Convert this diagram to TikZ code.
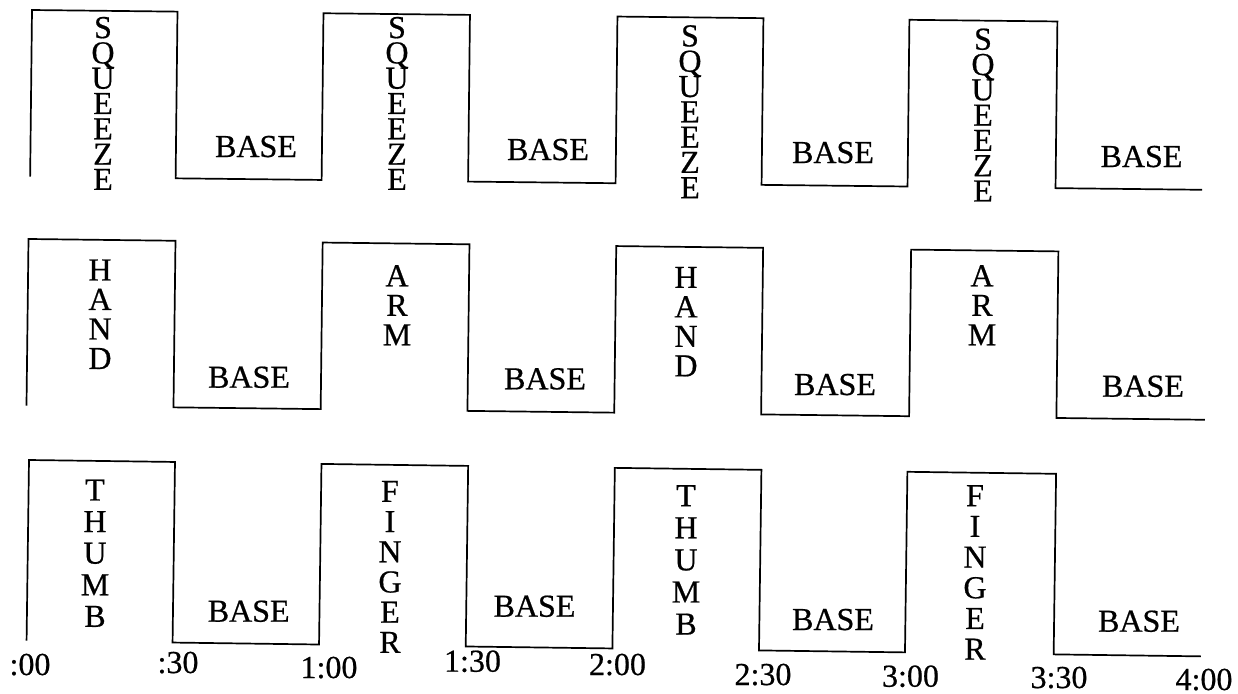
\documentclass[tikz,border=0pt]{standalone}
\usepackage{fontspec}
\setmainfont{Liberation Serif}[FakeBold=0.6]
\newcommand\vwf[1]{\fontsize{32pt}{#1pt}\selectfont\lineskiplimit=-100pt\relax}
\tikzset{
  wave/.style={line width=1.7pt, line join=miter},
  lbl/.style={font=\fontsize{32pt}{36pt}\selectfont, inner sep=0pt, anchor=base},
  vword/.style={inner sep=0pt, anchor=north, align=center, font=\vwf{#1}},
}
\begin{document}
\begin{tikzpicture}[x=1pt,y=-1pt]
\useasboundingbox (0,0) rectangle (1238,693);
% row 1
\begin{scope}[rotate around={-0.64:(31,10)}]
\draw[wave] (32,176.7) -- (32,10) -- (177.5,10) -- (177.5,176.7) -- (323.5,176.7) -- (323.5,10)
  -- (470,10) -- (470,176.7) -- (617.5,176.7) -- (617.5,10) -- (763.5,10) -- (763.5,176.7)
  -- (909.5,176.7) -- (909.5,10) -- (1057.5,10) -- (1057.5,176.7) -- (1204,176.7);
\end{scope}
% row 2
\begin{scope}[rotate around={-0.69:(29,239)}]
\draw[wave] (28.5,405.6) -- (28.5,239) -- (175.5,239) -- (175.5,405.6) -- (322.7,405.6) -- (322.7,239)
  -- (469.5,239) -- (469.5,405.6) -- (616.3,405.6) -- (616.3,239) -- (763.2,239) -- (763.2,405.6)
  -- (911.2,405.6) -- (911.2,239) -- (1058.5,239) -- (1058.5,405.6) -- (1207,405.6);
\end{scope}
% row 3
\begin{scope}[rotate around={-0.77:(29,460)}]
\draw[wave] (29,640.6) -- (29,460) -- (175,460) -- (175,640.6) -- (321.5,640.6) -- (321.5,460)
  -- (468.2,460) -- (468.2,640.6) -- (614.9,640.6) -- (614.9,460) -- (761.5,460) -- (761.5,640.6)
  -- (907.5,640.6) -- (907.5,460) -- (1056.2,460) -- (1056.2,640.6) -- (1203.4,640.6);
\end{scope}
% row 1 labels
\node[vword=25.3] (s1) at (103,16.7) {S\\Q\\U\\E\\E\\Z\\E};
\node[vword=25.3] (s2) at (397,16.7) {S\\Q\\U\\E\\E\\Z\\E};
\node[vword=25.3] (s3) at (690,25) {S\\Q\\U\\E\\E\\Z\\E};
\node[vword=25.3] (s4) at (983,28.3) {S\\Q\\U\\E\\E\\Z\\E};
\node[lbl] (b11) at (256,157) {BASE};
\node[lbl] (b12) at (548,160) {BASE};
\node[lbl] (b13) at (833,163) {BASE};
\node[lbl] (b14) at (1141.5,167) {BASE};
% row 2 labels
\node[vword=29.5] (h1) at (100,259.3) {H\\A\\N\\D};
\node[vword=29.5] (a1) at (397,265) {A\\R\\M};
\node[vword=29.5] (h2) at (686,266.7) {H\\A\\N\\D};
\node[vword=29.5] (a2) at (982,265) {A\\R\\M};
\node[lbl] (b21) at (249,387.7) {BASE};
\node[lbl] (b22) at (545,389.3) {BASE};
\node[lbl] (b23) at (835,395) {BASE};
\node[lbl] (b24) at (1143,396.7) {BASE};
% row 3 labels
\node[vword=31.6] (t1) at (95,479.3) {T\\H\\U\\M\\B};
\node[vword=30.2] (f1) at (390,480.7) {F\\I\\N\\G\\E\\R};
\node[vword=32.1] (t2) at (686,485) {T\\H\\U\\M\\B};
\node[vword=30.7] (f2) at (975,485) {F\\I\\N\\G\\E\\R};
\node[lbl] (b31) at (248.7,621.7) {BASE};
\node[lbl] (b32) at (534.5,616.7) {BASE};
\node[lbl] (b33) at (833,630) {BASE};
\node[lbl] (b34) at (1139,631.7) {BASE};
% time labels
\node[lbl] (m0) at (30,675) {:00};
\node[lbl] (m1) at (178,673) {:30};
\node[lbl] (m2) at (329,678) {1:00};
\node[lbl] (m3) at (472.5,671.7) {1:30};
\node[lbl] (m4) at (617.5,675) {2:00};
\node[lbl] (m5) at (763,685) {2:30};
\node[lbl] (m6) at (910.5,686.7) {3:00};
\node[lbl] (m7) at (1059,688) {3:30};
\node[lbl] (m8) at (1204,690) {4:00};
\end{tikzpicture}
\end{document}
